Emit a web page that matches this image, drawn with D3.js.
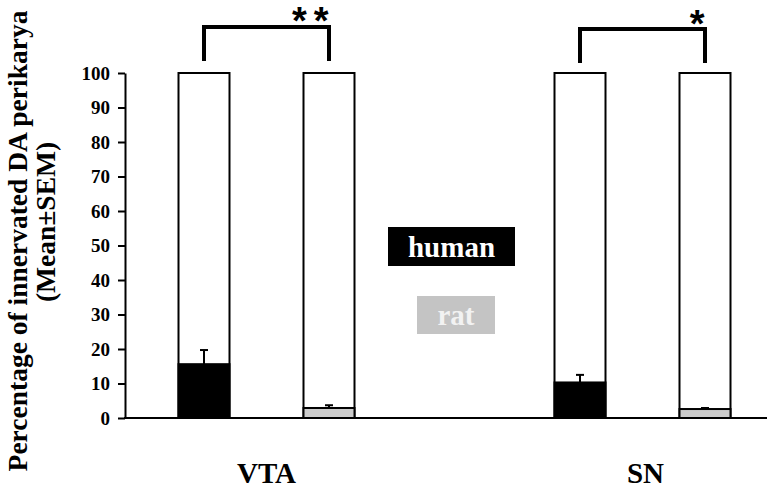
<!DOCTYPE html>
<html>
<head>
<meta charset="utf-8">
<script src="https://cdn.jsdelivr.net/npm/d3@7"></script>
<style>
  body { margin: 0; background: #fff; }
  svg { display: block; }
  svg text { font-family: "Liberation Serif", "Times New Roman", serif; font-weight: bold; }
</style>
</head>
<body>
<svg id="chart" width="773" height="489"></svg>
<script>
// data
const regions = ["VTA", "SN"];
const species = ["human", "rat"];
const humanMean = [15.6, 10.3];
const humanSem = [4.1, 2.2];
const ratMean = [2.9, 2.6];
const ratSem = [0.8, 0.3];
const significance = ["**", "*"];
const yTicks = [0, 10, 20, 30, 40, 50, 60, 70, 80, 90, 100];

const colors = { human: "#000", rat: "#cbcbcb" };
const serif = "'Liberation Serif', 'Times New Roman', serif";

const svg = d3.select("#chart");
const axisX = 125, axisEnd = 767;
const barW = 51;

const y = d3.scaleLinear().domain([0, 100]).range([418, 73]);
const x0 = d3.scalePoint().domain(regions).range([266.5, 642.5]);
const x1 = d3.scalePoint().domain(species).range([-62.5, 62.5]);

const bars = [];
regions.forEach((r, i) => {
  bars.push({ region: r, sp: "human", mean: humanMean[i], sem: humanSem[i] });
  bars.push({ region: r, sp: "rat", mean: ratMean[i], sem: ratSem[i] });
});
const cx = d => x0(d.region) + x1(d.sp);

// y axis
const yAxis = svg.append("g")
  .attr("transform", `translate(${axisX},0)`)
  .call(d3.axisLeft(y).tickValues(yTicks).tickSize(7).tickSizeOuter(0).tickPadding(8));
yAxis.attr("font-family", serif).attr("font-size", 19);
yAxis.select(".domain").attr("stroke", "#000").attr("stroke-width", 2);
yAxis.selectAll(".tick line").attr("stroke", "#000").attr("stroke-width", 2);
yAxis.selectAll(".tick text")
  .style("font-family", serif)
  .style("font-weight", "bold")
  .attr("fill", "#000");

// bars: white full-height outline, then coloured part
const g = svg.append("g");
g.selectAll("rect.full")
  .data(bars)
  .join("rect")
  .attr("class", "full")
  .attr("x", d => cx(d) - barW / 2)
  .attr("y", y(100))
  .attr("width", barW)
  .attr("height", y(0) - y(100))
  .attr("fill", "#fff")
  .attr("stroke", "#000")
  .attr("stroke-width", 2);

g.selectAll("rect.val")
  .data(bars)
  .join("rect")
  .attr("class", "val")
  .attr("x", d => cx(d) - barW / 2)
  .attr("y", d => y(d.mean))
  .attr("width", barW)
  .attr("height", d => y(0) - y(d.mean))
  .attr("fill", d => colors[d.sp])
  .attr("stroke", "#000")
  .attr("stroke-width", 2);

// error bars (upper only)
g.selectAll("line.err")
  .data(bars)
  .join("line")
  .attr("class", "err")
  .attr("x1", cx).attr("x2", cx)
  .attr("y1", d => y(d.mean))
  .attr("y2", d => y(d.mean + d.sem))
  .attr("stroke", "#000").attr("stroke-width", 2);
g.selectAll("line.cap")
  .data(bars)
  .join("line")
  .attr("class", "cap")
  .attr("x1", d => cx(d) - 4).attr("x2", d => cx(d) + 4)
  .attr("y1", d => y(d.mean + d.sem))
  .attr("y2", d => y(d.mean + d.sem))
  .attr("stroke", "#000").attr("stroke-width", 2);

// x axis baseline
svg.append("line")
  .attr("x1", axisX - 1).attr("x2", axisEnd)
  .attr("y1", y(0)).attr("y2", y(0))
  .attr("stroke", "#000").attr("stroke-width", 2);

// significance brackets
const brTop = [27, 29], brBottom = [61, 63], starY = [34, 37];
regions.forEach((r, i) => {
  const xa = x0(r) + x1("human"), xb = x0(r) + x1("rat");
  svg.append("path")
    .attr("d", `M${xa},${brBottom[i]}V${brTop[i]}H${xb}V${brBottom[i]}`)
    .attr("fill", "none")
    .attr("stroke", "#000")
    .attr("stroke-width", 4);
  svg.append("text")
    .attr("x", xb + 6.5)
    .attr("y", starY[i])
    .attr("text-anchor", "end")
    .style("font-family", "'Liberation Sans', Arial, sans-serif")
    .style("letter-spacing", "7px")
    .attr("font-size", 38)
    .text(significance[i]);
});

// category labels
svg.selectAll("text.cat")
  .data(regions)
  .join("text")
  .attr("class", "cat")
  .attr("x", d => x0(d) + (d === "SN" ? 3 : 0))
  .attr("y", 483)
  .attr("text-anchor", "middle")
  .attr("font-size", 29)
  .text(d => d);

// legend
const legend = [
  { key: "human", x: 388, y: 227, w: 127, h: 39, fill: "#000", text: "#fff" },
  { key: "rat", x: 417, y: 296, w: 78, h: 38, fill: "#c4c4c4", text: "#f2f2f2" }
];
const lg = svg.append("g").selectAll("g").data(legend).join("g");
lg.append("rect")
  .attr("x", d => d.x).attr("y", d => d.y)
  .attr("width", d => d.w).attr("height", d => d.h)
  .attr("fill", d => d.fill);
lg.append("text")
  .attr("x", d => d.x + d.w / 2)
  .attr("y", d => d.y + d.h - 9)
  .attr("text-anchor", "middle")
  .style("font-family", serif)
  .style("font-weight", "bold")
  .attr("font-size", 29)
  .attr("fill", d => d.text)
  .text(d => d.key);

// y axis title
svg.append("text")
  .attr("transform", "translate(27,241) rotate(-90)")
  .attr("text-anchor", "middle")
  .attr("font-size", 27.5)
  .text("Percentage of innervated DA perikarya");
svg.append("text")
  .attr("transform", "translate(55,222) rotate(-90)")
  .attr("text-anchor", "middle")
  .attr("font-size", 27.5)
  .text("(Mean±SEM)");
</script>
</body>
</html>
